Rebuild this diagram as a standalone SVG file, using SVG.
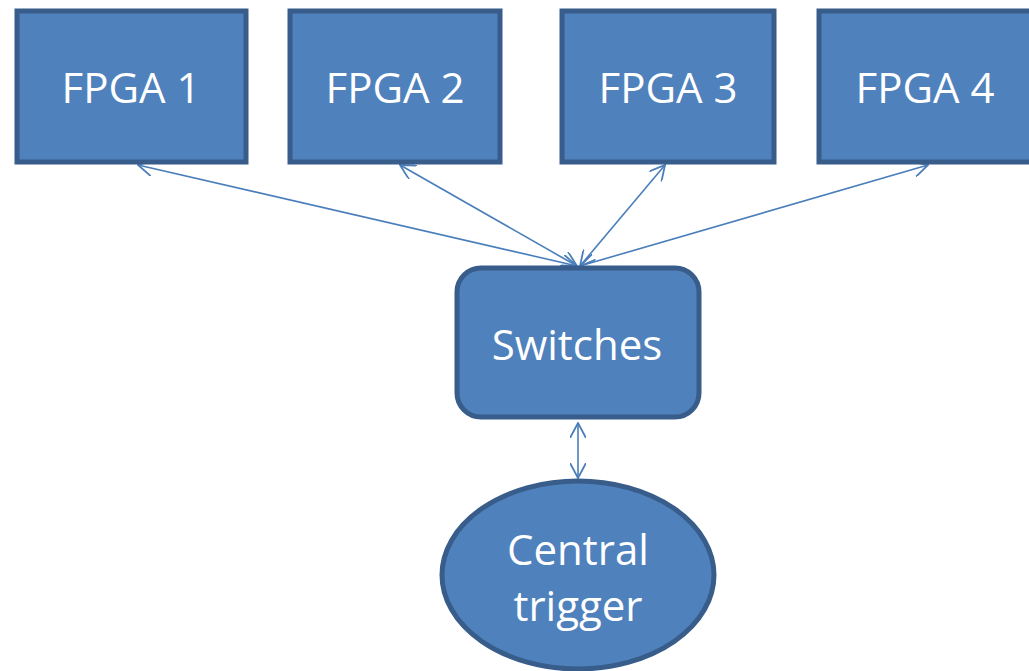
<svg xmlns="http://www.w3.org/2000/svg" width="1029" height="671" viewBox="0 0 1029 671">
<style>
.box{fill:#4f81bd;stroke:#385d8a;stroke-width:5}
.lbl{fill:#ffffff;font-family:"Open Sans","Noto Sans",sans-serif;font-size:42px;text-anchor:middle}
.conn{stroke:#4a7ebb;stroke-width:1.6;fill:none;marker-start:url(#ah);marker-end:url(#ah)}
</style>
<defs>
<marker id="ah" viewBox="0 0 16 16" refX="15" refY="8" markerWidth="16" markerHeight="16" markerUnits="userSpaceOnUse" orient="auto-start-reverse">
<path d="M0,0 L15,8 L0,16" fill="none" stroke="#4a7ebb" stroke-width="1.8"/>
</marker>
</defs>
<rect width="1029" height="671" fill="#ffffff"/>
<g id="connectors">
<line class="conn" x1="138" y1="165" x2="577" y2="266"/>
<line class="conn" x1="400" y1="165" x2="577" y2="266"/>
<line class="conn" x1="665" y1="165" x2="580" y2="266"/>
<line class="conn" x1="928" y1="165" x2="580" y2="266"/>
<line class="conn" x1="578" y1="423" x2="578" y2="478"/>
</g>
<g id="fpga1"><rect class="box" x="17" y="11" width="229" height="151"/><text class="lbl" x="131" y="103">FPGA 1</text></g>
<g id="fpga2"><rect class="box" x="290" y="11" width="210" height="151"/><text class="lbl" x="395" y="103">FPGA 2</text></g>
<g id="fpga3"><rect class="box" x="562" y="11" width="212" height="151"/><text class="lbl" x="668" y="103">FPGA 3</text></g>
<g id="fpga4"><rect class="box" x="819" y="11" width="220" height="151"/><text class="lbl" x="925" y="103">FPGA 4</text></g>
<g id="switches"><rect class="box" x="457" y="268" width="242" height="149" rx="24"/><text class="lbl" x="577" y="360">Switches</text></g>
<g id="central"><ellipse class="box" cx="578" cy="575" rx="136" ry="94"/><text class="lbl" x="578" y="565">Central</text><text class="lbl" x="578" y="621">trigger</text></g>
</svg>
